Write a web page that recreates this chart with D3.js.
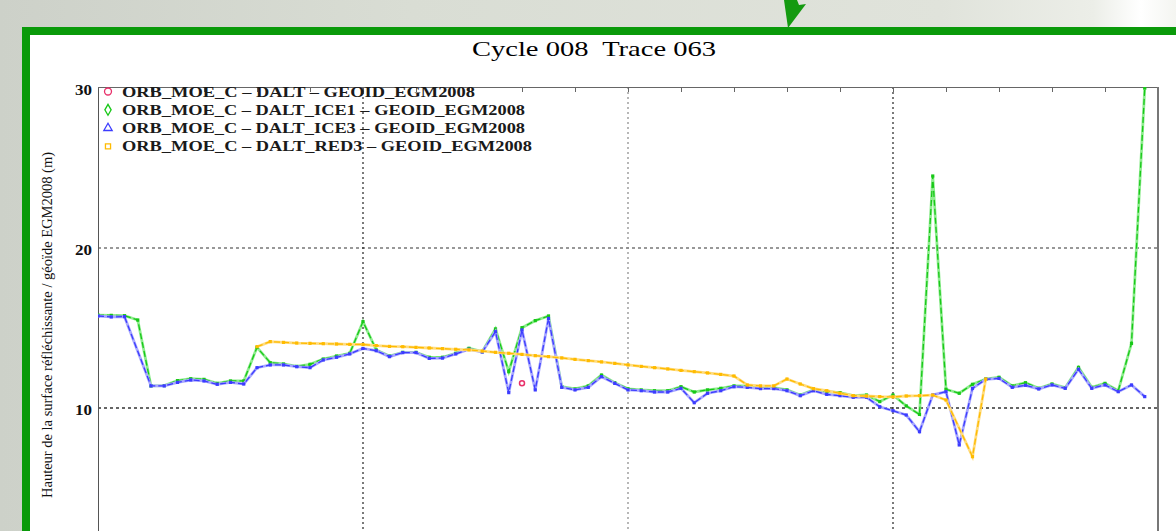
<!DOCTYPE html>
<html>
<head>
<meta charset="utf-8">
<script src="https://cdn.jsdelivr.net/npm/d3@7"></script>
<style>
  body { margin: 0; padding: 0; overflow: hidden; }
  svg { display: block; }
  text { white-space: pre; }
</style>
</head>
<body>
<div id="chart"></div>
<script>
// series values (m), one per along-track point, null = no measurement
const dalt = [null, null, null, null, null, null, null, null, null, null,
  null, null, null, null, null, null, null, null, null, null,
  null, null, null, null, null, null, null, null, null, null,
  null, null, 11.54, null, null, null, null, null, null, null,
  null, null, null, null, null, null, null, null, null, null,
  null, null, null, null, null, null, null, null, null, null,
  null, null, null, null, null, null, null, null, null, null,
  null, null, null, null, null, null, null, null, null, null];

const ice1 = [15.81, 15.79, 15.77, 15.5, 11.38, 11.4, 11.71, 11.83, 11.79, 11.54,
  11.69, 11.69, 13.79, 12.83, 12.75, 12.6, 12.73, 13.06, 13.25, 13.42,
  15.4, 13.63, 13.25, 13.48, 13.48, 13.17, 13.17, 13.42, 13.73, 13.52,
  14.94, 12.27, 15.02, 15.46, 15.75, 11.33, 11.19, 11.38, 12.06, 11.58,
  11.2, 11.13, 11.08, 11.08, 11.33, 11.0, 11.13, 11.23, 11.38, 11.38,
  11.29, 11.27, 11.13, 10.81, 11.13, 11.02, 10.96, 10.77, 10.81, 10.4,
  10.81, 10.13, 9.6, 24.5, 11.17, 10.92, 11.48, 11.81, 11.92, 11.38,
  11.58, 11.23, 11.5, 11.27, 12.54, 11.29, 11.54, 11.08, 14.04, 30.0];

const ice3 = [15.75, 15.69, 15.71, null, 11.38, 11.38, 11.6, 11.75, 11.69, 11.48,
  11.6, 11.5, 12.52, 12.69, 12.69, 12.58, 12.52, 13.0, 13.17, 13.38,
  13.72, 13.58, 13.21, 13.46, 13.46, 13.1, 13.12, 13.38, 13.67, 13.5,
  14.77, 10.96, 14.88, 11.13, 15.6, 11.29, 11.13, 11.29, 11.96, 11.54,
  11.13, 11.08, 11.0, 11.0, 11.23, 10.33, 10.92, 11.08, 11.33, 11.29,
  11.21, 11.21, 11.08, 10.77, 11.08, 10.85, 10.77, 10.67, 10.67, 10.08,
  9.83, 9.56, 8.52, 10.81, 11.02, 7.69, 11.23, 11.79, 11.85, 11.29,
  11.42, 11.19, 11.44, 11.23, 12.42, 11.23, 11.44, 11.02, 11.44, 10.71];

const red3 = [null, null, null, null, null, null, null, null, null, null,
  null, null, 13.83, 14.15, 14.1, 14.06, 14.04, 14.02, 14.0, 13.98,
  13.97, 13.9, 13.85, 13.83, 13.79, 13.75, 13.71, 13.67, 13.63, 13.56,
  13.48, 13.42, 13.35, 13.27, 13.21, 13.13, 13.04, 12.96, 12.88, 12.79,
  12.69, 12.6, 12.52, 12.44, 12.35, 12.27, 12.19, 12.1, 12.0, 11.44,
  11.38, 11.38, 11.81, 11.5, 11.21, 11.08, 10.92, 10.77, 10.75, 10.71,
  10.69, 10.75, 10.77, 10.81, 10.5, null, 6.96, 11.81, null, null,
  null, null, null, null, null, null, null, null, null, null];

const legendLabels = [
  'ORB_MOE_C \u2013 DALT \u2013 GEOID_EGM2008',
  'ORB_MOE_C \u2013 DALT_ICE1 \u2013 GEOID_EGM2008',
  'ORB_MOE_C \u2013 DALT_ICE3 \u2013 GEOID_EGM2008',
  'ORB_MOE_C \u2013 DALT_RED3 \u2013 GEOID_EGM2008'
];
const yTicks = [10, 20, 30];
const gridX = [20, 40, 60];
const titleText = 'Cycle 008  Trace 063';
const yLabel = 'Hauteur de la surface r\u00e9fl\u00e9chissante / g\u00e9o\u00efde EGM2008 (m)';

const W = 1176, H = 531;
const pLeft = 98, pRight = 1158, pTop = 87, pBottom = 568;

const svg = d3.select('#chart').append('svg')
  .attr('width', W).attr('height', H);

const defs = svg.append('defs');
const bg = defs.append('linearGradient').attr('id', 'bg')
  .attr('x1', '0%').attr('x2', '100%').attr('y1', '0%').attr('y2', '0%');
[['0%', '#cdd1c9'], ['35%', '#d9ddd4'], ['80%', '#e0e3db'], ['93%', '#eceee8'], ['97%', '#ffffff'], ['100%', '#f4f5f1']]
  .forEach(s => bg.append('stop').attr('offset', s[0]).attr('stop-color', s[1]));
defs.append('clipPath').attr('id', 'plotclip')
  .append('rect').attr('x', pLeft).attr('y', pTop).attr('width', pRight - pLeft).attr('height', pBottom - pTop);

// slide background + green frame
svg.append('rect').attr('width', W).attr('height', H).attr('fill', 'url(#bg)');
svg.append('rect').attr('x', 30).attr('y', 35).attr('width', W - 30).attr('height', H - 35).attr('fill', '#fff');
svg.append('rect').attr('x', 22).attr('y', 27).attr('width', W - 22).attr('height', 8).attr('fill', '#0a9a0a');
svg.append('rect').attr('x', 22).attr('y', 27).attr('width', 8).attr('height', H - 27).attr('fill', '#0a9a0a');
svg.append('polygon')
  .attr('points', '784,0 797,0 799,5 806,4 788,28')
  .attr('fill', '#149a10');

const x = d3.scaleLinear().domain([0, 80]).range([pLeft, pRight]);
const y = d3.scaleLinear().domain([0, 30]).range([pBottom, pTop + 1]);

// grid
svg.append('g').selectAll('line').data(yTicks.filter(d => d < 30)).enter().append('line')
  .attr('x1', pLeft).attr('x2', pRight)
  .attr('y1', d => y(d)).attr('y2', d => y(d))
  .attr('stroke', (d, i) => i === 0 ? '#333' : '#777')
  .attr('stroke-width', 1.6)
  .attr('stroke-dasharray', '3,3');
svg.append('g').selectAll('line').data(gridX).enter().append('line')
  .attr('x1', d => x(d)).attr('x2', d => x(d))
  .attr('y1', pTop).attr('y2', pBottom)
  .attr('stroke', (d, i) => i === 1 ? '#888' : '#222')
  .attr('stroke-width', 1.2)
  .attr('stroke-dasharray', '2,3');

// frame
svg.append('g').attr('transform', `translate(0,${pTop})`)
  .call(d3.axisTop(x).tickValues(d3.range(0, 81, 4)).tickSize(-5).tickSizeOuter(0).tickFormat(''))
  .call(g => g.selectAll('path,line').attr('stroke', '#666'));
svg.append('line').attr('x1', pRight).attr('x2', pRight).attr('y1', pTop).attr('y2', pBottom)
  .attr('stroke', '#777').attr('stroke-width', 2);

const yAxis = svg.append('g').attr('transform', `translate(${pLeft},0)`)
  .call(d3.axisLeft(y).tickValues(yTicks).tickSize(0).tickPadding(6).tickSizeOuter(0));
yAxis.select('.domain').attr('stroke', '#555');
yAxis.selectAll('text')
  .attr('font-family', '"Liberation Serif", serif')
  .attr('font-size', 15).attr('font-weight', 'bold').attr('fill', '#111')
  .attr('textLength', 17).attr('lengthAdjust', 'spacingAndGlyphs')
  .attr('dy', '0.45em');

// series
const series = [
  { vals: dalt, color: '#e8306a', light: '#f4a0ba', mark: 'circle' },
  { vals: ice1, color: '#18c818', light: '#8fec8f', mark: 'diamond' },
  { vals: ice3, color: '#3c3cff', light: '#a8a8ff', mark: 'triangle' },
  { vals: red3, color: '#ffbb00', light: '#ffdc80', mark: 'square' }
];

const plot = svg.append('g').attr('clip-path', 'url(#plotclip)');
const line = d3.line().x(d => x(d.i)).y(d => y(d.v));

series.forEach(s => {
  const pts = s.vals.map((v, i) => ({ i: i, v: v })).filter(d => d.v !== null);
  if (s.mark === 'circle') {
    plot.selectAll(null).data(pts).enter().append('circle')
      .attr('cx', d => x(d.i)).attr('cy', d => y(d.v)).attr('r', 2.5)
      .attr('fill', 'none').attr('stroke', s.color).attr('stroke-width', 1.5);
    return;
  }
  plot.append('path').datum(pts).attr('d', line)
    .attr('fill', 'none').attr('stroke', s.light).attr('stroke-width', 2.8);
  plot.append('path').datum(pts).attr('d', line)
    .attr('fill', 'none').attr('stroke', s.color).attr('stroke-width', 1.3)
    .attr('stroke-dasharray', '6,3');
  plot.selectAll(null).data(pts).enter().append('rect')
    .attr('x', d => x(d.i) - 1.6).attr('y', d => y(d.v) - 1.6)
    .attr('width', 3.2).attr('height', 3.2)
    .attr('fill', s.color);
});

// legend
const symbols = {
  circle: d3.symbol().type(d3.symbolCircle).size(38),
  diamond: d3.symbol().type(d3.symbolDiamond).size(34),
  triangle: d3.symbol().type(d3.symbolTriangle).size(30),
  square: d3.symbol().type(d3.symbolSquare).size(26)
};
const legendW = [353, 403, 403, 410];
const leg = svg.append('g');
legendLabels.forEach((t, i) => {
  const cy = 91.5 + i * 18.3;
  leg.append('path').attr('d', symbols[series[i].mark]())
    .attr('transform', `translate(108,${cy})`)
    .attr('fill', 'none').attr('stroke', series[i].color).attr('stroke-width', 1.3);
  leg.append('text').attr('x', 122).attr('y', cy + 5)
    .attr('font-family', '"Liberation Serif", serif').attr('font-size', 15)
    .attr('font-weight', 'bold').attr('fill', '#1a1a1a')
    .attr('textLength', legendW[i]).attr('lengthAdjust', 'spacingAndGlyphs')
    .text(t);
});

// title and axis label
svg.append('text').attr('x', 472).attr('y', 56)
  .attr('font-family', '"Liberation Serif", serif').attr('font-size', 21)
  .attr('fill', '#000')
  .attr('textLength', 244).attr('lengthAdjust', 'spacingAndGlyphs')
  .text(titleText);

svg.append('text')
  .attr('transform', 'translate(52,325) rotate(-90)')
  .attr('text-anchor', 'middle')
  .attr('font-family', '"Liberation Serif", serif').attr('font-size', 14)
  .attr('fill', '#111')
  .attr('textLength', 346).attr('lengthAdjust', 'spacingAndGlyphs')
  .text(yLabel);
</script>
</body>
</html>
